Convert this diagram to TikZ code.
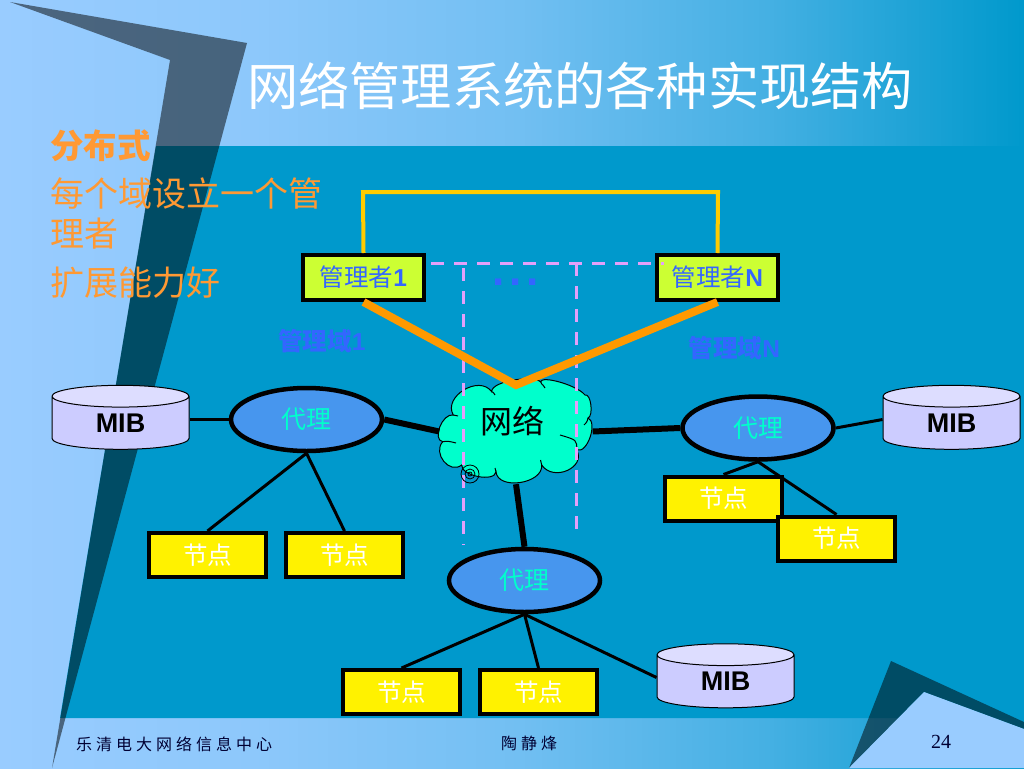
\documentclass[tikz,border=0pt]{standalone}
\usepackage{fontspec}
\setmainfont{Liberation Sans}
\newfontfamily\cjk{Noto Sans CJK SC}
\newfontfamily\cjkfoot[LetterSpace=25]{Noto Sans CJK SC}
\newfontfamily\serifnum{Liberation Serif}
\newcommand{\setpx}[1]{\fontsize{#1}{#1}\selectfont}
\usetikzlibrary{shapes.geometric}
\definecolor{bandlight}{HTML}{99CCFF}
\definecolor{bandblue}{HTML}{0099CC}
\definecolor{boxgreen}{HTML}{CCFF33}
\definecolor{agentblue}{HTML}{4796EE}
\definecolor{agenttext}{HTML}{00FFCC}
\definecolor{mgrtext}{HTML}{3366FF}
\definecolor{txtorange}{HTML}{FF9933}
\definecolor{linkorange}{HTML}{FF9900}
\definecolor{linkgold}{HTML}{FFCC00}
\definecolor{dashpink}{HTML}{E3A0FA}
\definecolor{mibbody}{HTML}{CCCCFF}
\definecolor{mibtop}{HTML}{DDDDFF}
\definecolor{cloudfill}{HTML}{00FFCC}
\definecolor{footink}{HTML}{000033}
\pgfdeclarehorizontalshading{bandshade}{100bp}{color(0bp)=(bandlight); color(25bp)=(bandlight); color(37.5bp)=(bandlight!92!bandblue); color(50bp)=(bandlight!75!bandblue); color(62.5bp)=(bandlight!45!bandblue); color(75bp)=(bandblue); color(100bp)=(bandblue)}
\begin{document}
\begin{tikzpicture}
        [x=1pt,y=-1pt,
        mgr/.style={rectangle,draw=black,line width=4pt,fill=boxgreen,minimum width=121pt,minimum height=45pt,inner sep=0pt,text=mgrtext,font=\setpx{24.5}\bfseries},
        leaf/.style={rectangle,draw=black,line width=4pt,fill=yellow,minimum width=117pt,minimum height=44pt,inner sep=0pt,text=white,font=\setpx{24.5}\cjk},
        agent/.style={ellipse,draw=black,line width=4.5pt,fill=agentblue,minimum width=151pt,minimum height=63pt,inner sep=0pt,text=agenttext,font=\setpx{25}\cjk},
        mibdb/.style={cylinder,shape border rotate=90,draw=black,line width=1pt,cylinder uses custom fill,cylinder body fill=mibbody,cylinder end fill=mibtop,aspect=0.44,minimum width=137pt,minimum height=64pt,inner sep=0pt,font=\setpx{27}\bfseries},
        label/.style={inner sep=0pt,anchor=west,text=txtorange,font=\setpx{34}\cjk},
        thin link/.style={line width=3pt},
        trunk/.style={line width=6pt},
        dashlink/.style={line width=3pt,dashpink,dash pattern=on 13pt off 10pt}]

        \useasboundingbox (0,0) rectangle (1024,768);

        % Slide background
        \shade[shading=bandshade] (0,0) rectangle (1024,768);
        \fill[bandblue] (156,146) -- (1024,146) -- (1024,718) -- (60,718) -- cycle;
        \fill[black,opacity=0.5] (10,2) -- (247,43) -- (52,768) -- (170,60) -- cycle;
        \fill[black,opacity=0.5] (849,768) -- (891,661) -- (1024,722) -- (1024,729) -- (924,692) -- cycle;
        \fill[bandlight] (849,768) -- (924,692) -- (1024,729) -- (1024,768) -- cycle;

        % Title and left text
        \node[inner sep=0pt,text=white,font=\setpx{51.2}\cjk] (title) at (580,86) {网络管理系统的各种实现结构};
        \node[label,font=\setpx{33.5}\cjk\bfseries] (lead) at (50,146) {分布式};
        \node[label] (line1) at (50,194) {每个域设立一个管};
        \node[label] (line2) at (50,234) {理者};
        \node[label] (line3) at (50,283) {扩展能力好};

        % Managers
        \node[mgr] (mgr1) at (363.5,277.5) {{\mdseries\cjk 管理者}1};
        \node[mgr] (mgrN) at (717.5,277.5) {{\mdseries\cjk 管理者}N};
        \node[inner sep=0pt,text=mgrtext,font=\setpx{24.5}\bfseries] (dom1) at (322,341) {{\cjk 管理域}1};
        \node[inner sep=0pt,text=mgrtext,font=\setpx{24.5}\bfseries] (domN) at (734.5,348) {{\cjk 管理域}N};
        \node[inner sep=0pt,anchor=base,text=mgrtext,font=\setpx{44}\bfseries] (dots) at (516,285) {.\kern.108em.\kern.108em.};

        % Cloud outline, with an empty node for its anchors
        \node[minimum width=153pt,minimum height=105pt,inner sep=0pt] (net) at (516,431.5) {};
        \draw[line width=1pt,fill=cloudfill] (442.7,441.7)
            .. controls (431.8,439.6) and (442.4,412.9) .. (453.3,415)
            .. controls (442.7,396.6) and (479.1,374.3) .. (491.7,391.7)
            .. controls (490.8,380.3) and (540.8,373.6) .. (541.7,384)
            .. controls (534.7,373.5) and (576,384) .. (585,395)
            .. controls (591,393) and (593.7,416) .. (588,418)
            .. controls (597.9,422) and (587.6,454) .. (576.7,450)
            .. controls (586.4,467.3) and (553.4,482.3) .. (541.7,465)
            .. controls (543.3,483.9) and (497.6,490.6) .. (496,471.7)
            .. controls (495,482.6) and (460.7,475.9) .. (461.7,465)
            .. controls (449.4,474.6) and (432.4,453.3) .. cycle;
        \draw[line width=1pt] (442.7,441.7) .. controls (448,441) .. (456,443);
        \draw[line width=1pt] (453.3,415) .. controls (455,415) .. (458,416);
        \draw[line width=1pt] (491.7,391.7) .. controls (493,392) .. (495,395);
        \draw[line width=1pt] (541.7,384) .. controls (543,385) .. (545,388);
        \draw[line width=1pt] (588,418) .. controls (587,422) .. (584,425);
        \draw[line width=1pt] (576.7,450) .. controls (577,440) .. (560,435);
        \draw[line width=1pt] (541.7,465) .. controls (541,463) .. (540.5,460);
        \draw[line width=1pt] (496,471.7) .. controls (495.5,470) .. (495,468);

        \node[inner sep=0pt,font=\setpx{32}\cjk] (nettext) at (512,421) {网络};
        \node[agent] (agent1) at (306.5,419.5) {代理};
        \node[agent] (agentN) at (758,428) {代理};
        \node[agent] (agent2) at (524.5,580.5) {代理};
        \node[mibdb] (mib1) at (120.5,423) {MIB};
        \node[mibdb] (mibN) at (951.5,423) {MIB};
        \node[mibdb] (mib2) at (725.5,681.5) {MIB};

        % Leaf boxes
        \node[leaf] (leafa) at (207.5,555) {节点};
        \node[leaf] (leafb) at (344.5,555) {节点};
        \node[leaf] (leafc) at (723.5,498.5) {节点};
        \node[leaf] (leafd) at (836.5,538.5) {节点};
        \node[leaf] (leafe) at (401.5,692) {节点};
        \node[leaf] (leaff) at (538.5,692) {节点};

        % Links
        \draw[line width=4pt,linkgold] (mgr1.north) -- (363,192) -- (718,192) -- (mgrN.north);
        \draw[trunk] (agent1.east) -- (net.west);
        \draw[trunk] (agentN.west) -- (net.east);
        \draw[trunk] (net.south) -- (agent2.north);
        \draw[thin link] ([yshift=3.5pt]mib1.east) -- (agent1.west);
        \draw[thin link] (agentN.east) -- ([yshift=3.5pt]mibN.west);
        \draw[thin link] (agent1.south) -- (leafa.north);
        \draw[thin link] (agent1.south) -- (leafb.north);
        \draw[thin link] (agentN.south) -- (leafc.north);
        \draw[thin link] (agentN.south) -- (leafd.north);
        \draw[thin link] (agent2.south) -- (leafe.north);
        \draw[thin link] (agent2.south) -- (leaff.north);
        \draw[thin link] (agent2.south) -- ([yshift=4pt]mib2.west);

        % Dashed domain lines
        \coordinate (domcornerl) at (463.5,263);
        \coordinate (domcornerr) at (576,263);
        \draw[dashlink] (mgr1.east |- domcornerl) ++(5,0) -- (664,263);
        \draw[dashlink] (domcornerl) ++(0,5) -- (463.5,545);
        \draw[dashlink] (domcornerr) -- (576,537);

        % Manager links
        \coordinate (netapex) at (516,385);
        \draw[line width=8pt,linkorange] (mgr1.south) -- (netapex) -- (mgrN.south);

        % Small spiral on the cloud
        \draw[line width=0.8pt] (470,474) circle (9) circle (5) circle (2);

        % Footer
        \node[inner sep=0pt,anchor=west,text=footink,font=\setpx{16}\cjkfoot] (foota) at (76,744) {乐清电大网络信息中心};
        \node[inner sep=0pt,text=footink,font=\setpx{16}\cjkfoot] (footb) at (529,743) {陶静烽};
        \node[inner sep=0pt,text=footink,font=\setpx{20}\serifnum] (footc) at (941,742) {24};
\end{tikzpicture}
\end{document}
